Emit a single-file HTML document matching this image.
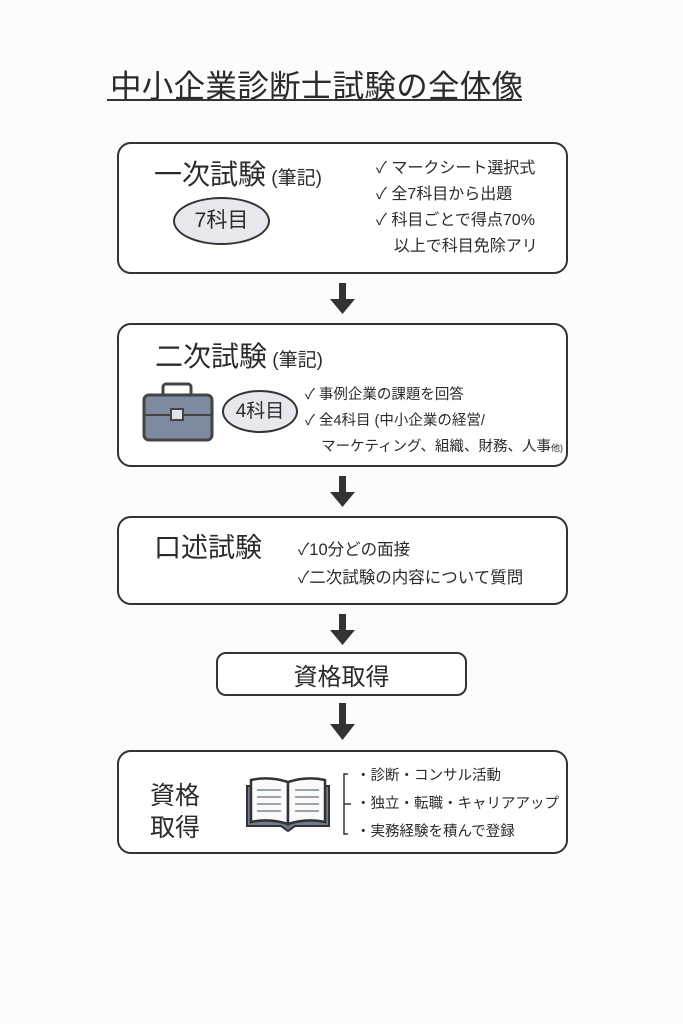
<!DOCTYPE html>
<html><head><meta charset="utf-8"><style>
html,body{margin:0;padding:0;}
body{width:683px;height:1024px;background:#fcfcfc;position:relative;overflow:hidden;font-family:"Liberation Sans","Noto Sans CJK JP",sans-serif;color:#2b2b2b;}
.a{position:absolute;white-space:nowrap;}
.box{position:absolute;border:2px solid #333;border-radius:14px;background:#fff;box-sizing:border-box;}
.ell{position:absolute;border:2px solid #333;border-radius:50%;background:#e6e8ee;box-sizing:border-box;text-align:center;}
</style></head><body>
<div class="a" style="left:110px;top:61px;font-size:31.5px;letter-spacing:0.3px;">中小企業診断士試験の全体像</div>
<div class="a" style="left:107px;top:99px;width:415px;height:2px;background:#333;"></div>

<div class="box" style="left:117px;top:142px;width:451px;height:132px;"></div>
<div class="a" style="left:154px;top:153px;font-size:28px;">一次試験<span style="font-size:19px;"> (筆記)</span></div>
<div class="ell" style="left:173px;top:197px;width:97px;height:48px;font-size:21px;line-height:44px;">7科目</div>
<div class="a" style="left:376px;top:156px;font-size:16px;line-height:26px;">✓ マークシート選択式<br>✓ 全7科目から出題<br>✓ 科目ごとで得点70%<br>&nbsp;&nbsp;&nbsp;&nbsp;以上で科目免除アリ</div>

<div class="box" style="left:117px;top:323px;width:451px;height:144px;"></div>
<div class="a" style="left:155px;top:335px;font-size:28px;">二次試験<span style="font-size:19px;"> (筆記)</span></div>
<svg class="a" style="left:140px;top:382px;" width="76" height="62" viewBox="0 0 76 62">
<rect x="23" y="2" width="28" height="14" rx="3" fill="none" stroke="#444" stroke-width="3"/>
<rect x="4" y="13" width="68" height="45" rx="5" fill="#7d8aa0" stroke="#444" stroke-width="3"/>
<line x1="4" y1="33" x2="72" y2="33" stroke="#444" stroke-width="2"/>
<rect x="31" y="27" width="12" height="11" fill="#dfe3ea" stroke="#444" stroke-width="2"/>
</svg>
<div class="ell" style="left:222px;top:390px;width:76px;height:43px;font-size:19px;line-height:39px;">4科目</div>
<div class="a" style="left:305px;top:382px;font-size:14.5px;line-height:26px;">✓ 事例企業の課題を回答<br>✓ 全4科目 (中小企業の経営/<br>&nbsp;&nbsp;&nbsp;&nbsp;マーケティング、組織、財務、人事<span style="font-size:9px;">他)</span></div>

<div class="box" style="left:117px;top:516px;width:451px;height:89px;"></div>
<div class="a" style="left:154px;top:526px;font-size:27px;">口述試験</div>
<div class="a" style="left:298px;top:536px;font-size:16.5px;line-height:28px;">✓10分どの面接<br>✓二次試験の内容について質問</div>

<div class="box" style="left:216px;top:652px;width:251px;height:44px;border-radius:10px;"></div>
<div class="a" style="left:216px;top:657px;width:251px;text-align:center;font-size:24px;">資格取得</div>

<div class="box" style="left:117px;top:750px;width:451px;height:104px;"></div>
<div class="a" style="left:150px;top:780px;font-size:25px;line-height:32px;">資格<br>取得</div>
<svg class="a" style="left:243px;top:776px;" width="90" height="58" viewBox="0 0 90 58">
<path d="M4 10 H86 V50 H52 L45 55 L38 50 H4 Z" fill="#6f7b8f" stroke="#333" stroke-width="2"/>
<path d="M8 4 Q26 0 45 6 V48 Q26 42 8 46 Z" fill="#fafafa" stroke="#333" stroke-width="2.5"/>
<path d="M82 4 Q64 0 45 6 V48 Q64 42 82 46 Z" fill="#fafafa" stroke="#333" stroke-width="2.5"/>
<g stroke="#9aa3b0" stroke-width="2"><line x1="14" y1="14" x2="38" y2="14"/><line x1="14" y1="21" x2="38" y2="21"/><line x1="14" y1="28" x2="38" y2="28"/><line x1="14" y1="35" x2="38" y2="35"/><line x1="52" y1="14" x2="76" y2="14"/><line x1="52" y1="21" x2="76" y2="21"/><line x1="52" y1="28" x2="76" y2="28"/><line x1="52" y1="35" x2="76" y2="35"/></g>
</svg>
<svg class="a" style="left:340px;top:772px;" width="14" height="64"><path d="M8 2 H4 V62 H8 M4 32 H11" fill="none" stroke="#333" stroke-width="1.5"/></svg>
<div class="a" style="left:356px;top:762px;font-size:14.5px;line-height:28px;">・診断・コンサル活動<br>・独立・転職・キャリアアップ<br>・実務経験を積んで登録</div>

<svg class="a" style="left:0;top:0;" width="683" height="1024">
<g fill="#333">
<rect x="339" y="283" width="7" height="17"/><polygon points="330,299 355,299 342.5,314"/>
<rect x="339" y="476" width="7" height="17"/><polygon points="330,492 355,492 342.5,507"/>
<rect x="339" y="614" width="7" height="17"/><polygon points="330,630 355,630 342.5,645"/>
<rect x="339" y="703" width="7" height="22"/><polygon points="330,724 355,724 342.5,740"/>
</g></svg>
</body></html>
